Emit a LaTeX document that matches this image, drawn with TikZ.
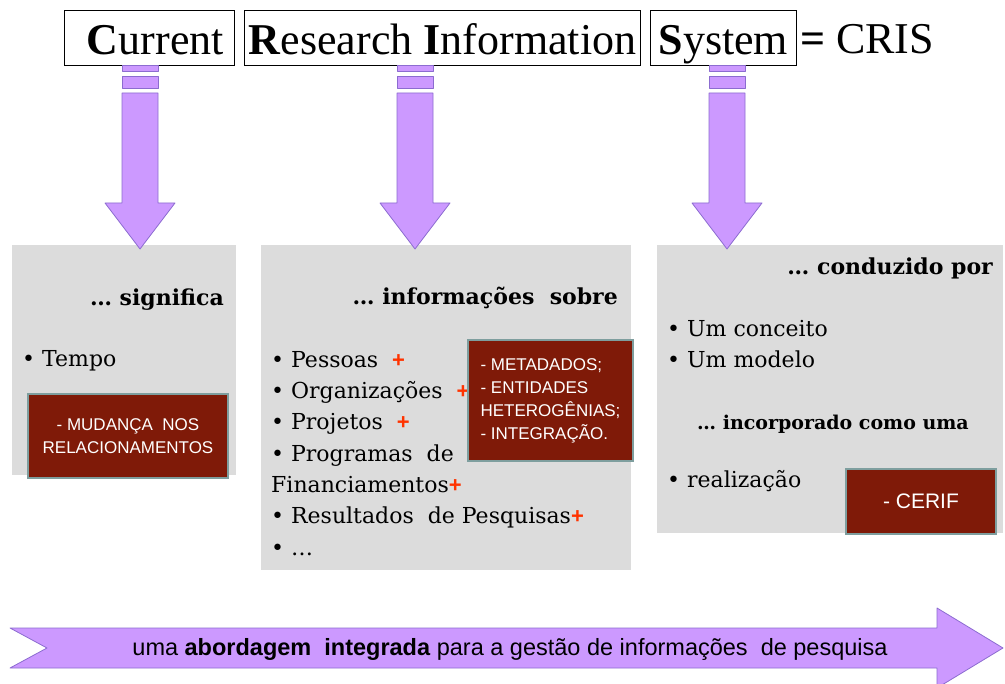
\documentclass[tikz,border=0pt]{standalone}
\usepackage{fontspec}
\setmainfont{DejaVu Serif}
\newfontfamily\titlefont{Liberation Serif}
\newfontfamily\boxfont{Liberation Sans}
\usetikzlibrary{positioning}

\definecolor{lilac}{HTML}{CC99FF}
\definecolor{lilacline}{HTML}{8C6CD0}
\definecolor{panelgray}{HTML}{DCDCDC}
\definecolor{rust}{HTML}{7F1A08}
\definecolor{rustline}{HTML}{7E9E9E}
\definecolor{plusred}{HTML}{FF3300}
\newcommand{\plusmark}{\textcolor{plusred}{\boxfont\bfseries +}}

\tikzset{
    titlebox/.style={draw,line width=0.8pt,inner sep=0pt,text height=44pt,text depth=11pt,anchor=north west,font=\titlefont\fontsize{44}{44}\selectfont},
    panel/.style={fill=panelgray,inner sep=0pt,anchor=north west},
    tagbox/.style={fill=rust,draw=rustline,line width=2pt,text=white,inner sep=0pt,anchor=north west,font=\boxfont\fontsize{17}{23}\selectfont},
    bodytext/.style={inner sep=0pt,align=left,font=\fontsize{22}{31.3}\selectfont},
    headtext/.style={inner sep=0pt,font=\bfseries\fontsize{22}{26}\selectfont},
    fatarrow/.style={fill=lilac,draw=lilacline,line width=0.8pt,line join=round}
}

\begin{document}
\begin{tikzpicture}[x=1pt,y=-1pt]
    \useasboundingbox (0,0) rectangle (1005,684);
    % title
    \node[titlebox,minimum width=170pt] (cur) at (64,10) {\hspace{12pt}\textbf{C}urrent};
    \node[titlebox,minimum width=396pt] (res) at (244,10) {\textbf{R}esearch \textbf{I}nformation};
    \node[titlebox,minimum width=146pt] (sys) at (650,10) {\textbf{S}ystem};
    \node[inner sep=0pt,anchor=base west,font=\titlefont\fontsize{44}{44}\selectfont] (cris) at (800,54) {\textbf{=} CRIS};
    % panels
    \node[panel,minimum width=224pt,minimum height=230pt] (pA) at (12,245) {};
    \node[panel,minimum width=370pt,minimum height=325pt] (pB) at (261,245) {};
    \node[panel,minimum width=346pt,minimum height=288pt] (pC) at (657,245) {};
    % down arrows
    \foreach \ax in {140,415,727}{
        \draw[fatarrow] ({\ax-18},65) rectangle ({\ax+18},71);
        \draw[fatarrow] ({\ax-18},76) rectangle ({\ax+18},88);
        \draw[fatarrow] ({\ax-18},93) -- ({\ax+18},93) -- ({\ax+18},203) -- ({\ax+35},203)
            -- (\ax,249) -- ({\ax-35},203) -- ({\ax-18},203) -- cycle;
    }
    % panel A
    \node[headtext,anchor=base east] (hA) at (224,306) {\ldots\ significa};
    \node[bodytext,anchor=base west] (lA) at (22,367) {\textbullet\ Tempo};
    \node[tagbox,minimum width=200pt,minimum height=84pt,align=center] (tA) at (27,393) {- MUDANÇA\ \ NOS\\RELACIONAMENTOS};
    % panel B
    \node[headtext,anchor=base east] (hB) at (618,305) {\ldots\ informações\ \ sobre};
    \node[bodytext,anchor=north west] (lB) at (271,351) {\textbullet\ Pessoas\ \ \plusmark\\
        \textbullet\ Organizações\ \ \plusmark\\
        \textbullet\ Projetos\ \ \plusmark\\
        \textbullet\ Programas\ \ de\\
        Financiamentos\plusmark\\
        \textbullet\ Resultados\ \ de Pesquisas\plusmark\\
        \textbullet\ \ldots};
    \node[tagbox,minimum width=165pt,minimum height=121pt,align=left] (tB) at (467,339) {- METADADOS;\\- ENTIDADES\\HETEROGÊNIAS;\\- INTEGRAÇÃO.};
    % panel C
    \node[headtext,anchor=base east] (hC) at (993,275) {\ldots\ conduzido\ por};
    \node[bodytext,anchor=north west] (lC) at (667,320) {\textbullet\ Um conceito\\\textbullet\ Um modelo};
    \node[headtext,anchor=base,font=\bfseries\fontsize{19}{22}\selectfont] (hC2) at (833,430) {\ldots\ incorporado como uma};
    \node[bodytext,anchor=base west] (lC2) at (667,488) {\textbullet\ realização};
    \node[tagbox,minimum width=150pt,minimum height=65pt,font=\boxfont\fontsize{21}{24}\selectfont] (tC) at (845,468) {- CERIF};
    % bottom band
    \draw[fatarrow] (10,628) -- (937,628) -- (937,608) -- (1003,648) -- (937,688)
        -- (937,668) -- (10,668) -- (47,648) -- cycle;
    \node[inner sep=0pt,font=\boxfont\fontsize{23.5}{26}\selectfont] (band) at (510,649)
        {uma \textbf{abordagem\ \ integrada} para a gestão de informações\ \ de pesquisa};
\end{tikzpicture}
\end{document}
